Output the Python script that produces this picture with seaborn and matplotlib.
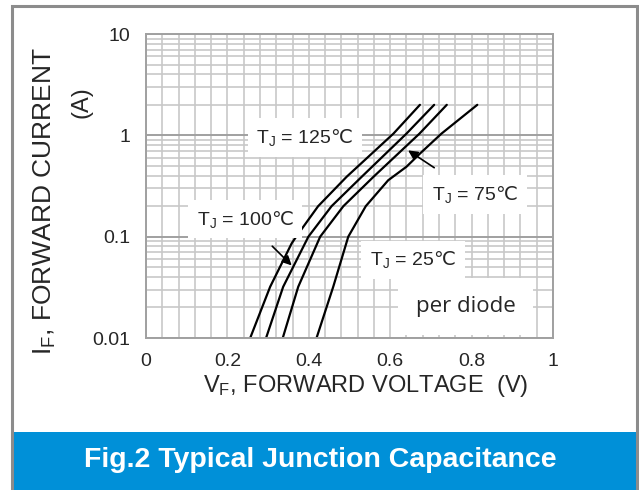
import numpy as np
import pandas as pd
import matplotlib.pyplot as plt
import seaborn as sns
from matplotlib.patches import Rectangle
from matplotlib.ticker import LogLocator, NullFormatter, MultipleLocator

# Forward voltage (V) vs forward current (A)
v_25 = [0.419, 0.460, 0.497, 0.540, 0.595, 0.640, 0.673, 0.726, 0.814]
i_25 = [0.01, 0.032, 0.1, 0.2, 0.36, 0.49, 0.66, 1.04, 2.0]
v_75 = [0.336, 0.374, 0.428, 0.485, 0.559, 0.672, 0.739]
i_75 = [0.01, 0.032, 0.1, 0.2, 0.39, 1.04, 2.0]
v_100 = [0.295, 0.337, 0.399, 0.456, 0.530, 0.640, 0.708]
i_100 = [0.01, 0.032, 0.1, 0.2, 0.39, 1.04, 2.0]
v_125 = [0.256, 0.305, 0.358, 0.369, 0.423, 0.493, 0.608, 0.673]
i_125 = [0.01, 0.032, 0.086, 0.1, 0.2, 0.39, 1.04, 2.0]

x_ticks = [0, 0.2, 0.4, 0.6, 0.8, 1]
x_tick_labels = ['0', '0.2', '0.4', '0.6', '0.8', '1']
y_ticks = [0.01, 0.1, 1, 10]
y_tick_labels = ['0.01', '0.1', '1', '10']

curves = {'25': (v_25, i_25), '75': (v_75, i_75), '100': (v_100, i_100), '125': (v_125, i_125)}
df = pd.concat([pd.DataFrame({'vf': v, 'if': i, 'tj': k}) for k, (v, i) in curves.items()])

sns.set_style('white')
plt.rcParams['font.family'] = ['Liberation Sans', 'DejaVu Sans']
plt.rcParams['mathtext.fontset'] = 'custom'
plt.rcParams['mathtext.rm'] = 'Liberation Sans'
plt.rcParams['mathtext.sf'] = 'DejaVu Sans'
plt.rcParams['mathtext.default'] = 'regular'

fig = plt.figure(figsize=(6.39, 4.90), dpi=100)
ax = fig.add_axes([146 / 639, 1 - 338 / 490, 407 / 639, 304 / 490])

sns.lineplot(data=df, x='vf', y='if', hue='tj', units='tj', estimator=None,
             palette=['black'] * 4, linewidth=1.6, legend=False, ax=ax)

ax.set_yscale('log')
ax.set_xlim(0, 1)
ax.set_ylim(0.01, 10)
ax.set_xticks(x_ticks)
ax.set_xticklabels(x_tick_labels)
ax.set_yticks(y_ticks)
ax.set_yticklabels(y_tick_labels)
ax.xaxis.set_minor_locator(MultipleLocator(0.04))
ax.yaxis.set_minor_locator(LogLocator(base=10, subs=np.arange(2, 10)))
ax.yaxis.set_minor_formatter(NullFormatter())
ax.tick_params(which='both', length=0, labelsize=14)
ax.tick_params(axis='x', pad=11)
ax.tick_params(axis='y', pad=11.5)

ax.grid(which='both', axis='x', color='#c8c8c8', lw=1.2)
ax.grid(which='minor', axis='y', color='#c8c8c8', lw=1.2)
ax.grid(which='major', axis='y', color='#a0a0a0', lw=1.4)
ax.set_axisbelow(True)
for s in ax.spines.values():
    s.set_color('#a0a0a0')
    s.set_linewidth(1.4)
ax.set_xlabel('')
ax.set_ylabel('')

deg = r'$\mathsf{℃}$'
box = dict(boxstyle='square,pad=0.45', fc='white', ec='none')
tkw = dict(fontsize=14, ha='center', va='center', bbox=box, zorder=5)
ax.text(0.39, 0.95, r'T$_\mathregular{J}$ = 125' + deg, **tkw)
ax.text(0.656, 0.059, r'T$_\mathregular{J}$ = 25' + deg, **tkw)
ax.annotate(r'T$_\mathregular{J}$ = 75' + deg, xy=(0.644, 0.71), xytext=(0.808, 0.26),
            arrowprops=dict(arrowstyle='-|>', color='black', lw=1.2, mutation_scale=14,
                            shrinkA=10, shrinkB=0), **tkw)
ax.annotate(r'T$_\mathregular{J}$ = 100' + deg, xy=(0.358, 0.052), xytext=(0.243, 0.149),
            arrowprops=dict(arrowstyle='-|>', color='black', lw=1.2, mutation_scale=14,
                            shrinkA=8, shrinkB=0), **tkw)
ax.text(0.785, 0.0205, 'per diode', fontsize=16, family=['Open Sans', 'DejaVu Sans'],
        ha='center', va='center', zorder=5,
        bbox=dict(boxstyle='square,pad=0.8', fc='white', ec='none'))

fig.text(366 / 639, 1 - 386 / 490, r'V$_\mathregular{F}$, FORWARD VOLTAGE  (V)',
         fontsize=17, ha='center', va='center')
fig.text(45 / 639, 1 - 201 / 490, r'I$_\mathregular{F}$, FORWARD CURRENT',
         fontsize=19, ha='center', va='center', rotation=90)
fig.text(81 / 639, 1 - 102 / 490, '(A)', fontsize=17, ha='center', va='center', rotation=90)

# blue caption banner and outer frame
fig.add_artist(Rectangle((13 / 639, 0), 624 / 639, 58 / 490, transform=fig.transFigure,
                         fc='#0090d8', ec='none'))
fig.text(320 / 639, 1 - 460 / 490, 'Fig.2 Typical Junction Capacitance', color='white',
         fontsize=20.5, fontweight='bold', ha='center', va='center',
         family=['Liberation Sans Narrow', 'Liberation Sans', 'DejaVu Sans'])
fig.add_artist(Rectangle((12 / 639, -0.01), 625 / 639, 1 - 6 / 490 + 0.01,
                         transform=fig.transFigure, fc='none', ec='#8c8c8c', lw=2.2))

fig.savefig('out.png', dpi=100)
